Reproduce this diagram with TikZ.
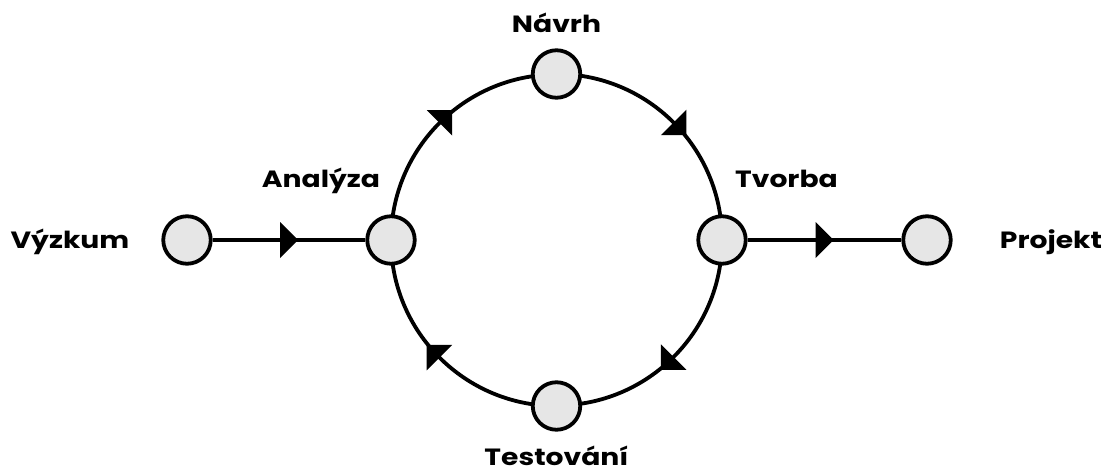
\documentclass[tikz,border=0pt]{standalone}
\usepackage{fontspec}
\setmainfont{Poppins}
\newfontfamily\labelfont{Poppins}[FakeStretch=1.2]
\usetikzlibrary{decorations.markings,backgrounds}
\definecolor{nodefill}{HTML}{E6E6E6}
\tikzset{
  x=1pt, y=1pt,
  dot/.style={circle, draw=black, fill=nodefill, line width=3.8pt, minimum size=47.5pt, inner sep=0pt},
  lbl/.style={anchor=base, inner sep=0pt, font=\labelfont\fontsize{23.5}{26}\selectfont\bfseries},
  flowline/.style={line width=3.8pt, postaction=decorate, decoration={markings,
    mark=at position 0.5 with {\fill (-9pt,-18pt)--(9pt,0pt)--(-9pt,18pt)--cycle;}}},
  flowarc/.style={line width=3.8pt, postaction=decorate, decoration={markings,
    mark=at position 0.5 with {\fill (0pt,-18pt)--(18pt,0pt)--(0pt,18pt)--cycle;}}},
}
\begin{document}
\begin{tikzpicture}
\useasboundingbox (0,0) rectangle (1108,472);
\node[dot] (V) at (187,232) {};
\node[dot] (A) at (391,232) {};
\node[dot] (T) at (722,232) {};
\node[dot] (P) at (927,232) {};
\node[dot] (N) at (556.5,398) {};
\node[dot] (S) at (556.5,66) {};
\node[lbl] (lV) at (70,224) {Výzkum};
\node[lbl] (lA) at (321,284) {Analýza};
\node[lbl] (lT) at (786.5,284) {Tvorba};
\node[lbl] (lP) at (1051,224) {Projekt};
\node[lbl] (lN) at (556.5,439) {Návrh};
\node[lbl] (lS) at (556.5,6.5) {Testování};
\begin{pgfonlayer}{background}
\fill[white] (0,0) rectangle (1108,472);
\draw[flowline] (V) -- (A);
\draw[flowline] (T) -- (P);
\draw[flowarc] (A.center) arc[start angle=180, end angle=90, radius=165.5];
\draw[flowarc] (N.center) arc[start angle=90, end angle=0, radius=165.5];
\draw[flowarc] (T.center) arc[start angle=0, end angle=-90, radius=165.5];
\draw[flowarc] (S.center) arc[start angle=-90, end angle=-180, radius=165.5];
\end{pgfonlayer}
\end{tikzpicture}
\end{document}
